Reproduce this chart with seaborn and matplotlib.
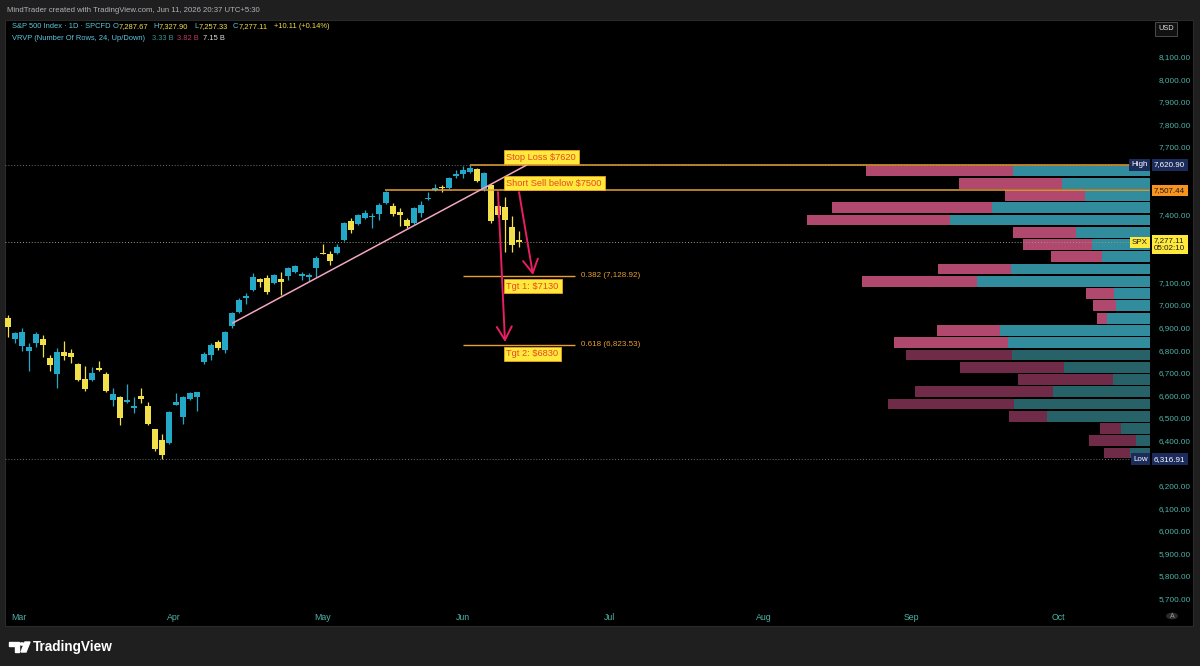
import numpy as np
import pandas as pd
import matplotlib
matplotlib.use("Agg")
import matplotlib.pyplot as plt
import matplotlib.transforms as mtransforms
from matplotlib.patches import Rectangle, Circle, Polygon
import seaborn as sns

# daily SPX candles, bar index 0 (Feb 27) .. 73 (Jun 11)
opens = [6942, 6849, 6818, 6796, 6831, 6849, 6765, 6694, 6792, 6787,
         6738, 6672, 6668, 6721, 6694, 6579, 6592, 6570, 6544, 6597,
         6552, 6450, 6402, 6388, 6557, 6504, 6583, 6592, 6747, 6778,
         6836, 6800, 6907, 6969, 7031, 7066, 7115, 7120, 7097, 7115,
         7128, 7146, 7128, 7124, 7164, 7230, 7226, 7230, 7288, 7372,
         7359, 7385, 7390, 7405, 7451, 7440, 7412, 7376, 7363, 7407,
         7470, 7509, 7523, 7518, 7571, 7580, 7589, 7602, 7514, 7531,
         7438, 7434, 7345, 7287.67]
highs = [6955, 6880, 6898, 6831, 6880, 6867, 6778, 6809, 6840, 6805,
         6742, 6730, 6725, 6752, 6703, 6632, 6595, 6650, 6592, 6632,
         6570, 6452, 6428, 6530, 6610, 6595, 6614, 6616, 6792, 6831,
         6845, 6884, 6970, 7031, 7053, 7142, 7120, 7133, 7138, 7146,
         7168, 7177, 7146, 7142, 7217, 7272, 7240, 7270, 7367, 7385,
         7403, 7421, 7407, 7451, 7507, 7451, 7429, 7385, 7434, 7460,
         7500, 7536, 7531, 7567, 7598, 7615, 7620.90, 7607, 7590, 7536,
         7450, 7478, 7394, 7327.90]
lows = [6858, 6831, 6796, 6707, 6814, 6769, 6707, 6632, 6756, 6743,
        6663, 6619, 6665, 6707, 6615, 6552, 6468, 6566, 6521, 6566,
        6470, 6353, 6316.91, 6385, 6555, 6473, 6580, 6530, 6738, 6756,
        6800, 6787, 6900, 6964, 7004, 7060, 7080, 7049, 7092, 7044,
        7111, 7142, 7111, 7106, 7124, 7224, 7177, 7226, 7284, 7319,
        7354, 7380, 7341, 7376, 7447, 7394, 7350, 7341, 7359, 7390,
        7465, 7505, 7500, 7514, 7562, 7562, 7584, 7545, 7505, 7363,
        7390, 7234, 7234, 7257.33]
closes = [6902, 6876, 6880, 6814, 6871, 6822, 6734, 6792, 6774, 6770,
          6668, 6628, 6699, 6712, 6619, 6606, 6499, 6579, 6552, 6583,
          6473, 6362, 6335, 6526, 6570, 6592, 6610, 6614, 6783, 6822,
          6809, 6880, 6964, 7022, 7040, 7124, 7102, 7057, 7133, 7102,
          7164, 7173, 7137, 7133, 7208, 7226, 7195, 7257, 7363, 7332,
          7399, 7407, 7394, 7445, 7500, 7403, 7399, 7350, 7430, 7443,
          7474, 7518, 7518, 7563, 7580, 7600, 7607, 7549, 7585, 7372,
          7399, 7376, 7267, 7277.11]

month_pos = [1.6, 23.7, 44.9, 65.0, 86.0, 108.0, 129.1, 150.1]
month_labels = ["Mar", "Apr", "May", "Jun", "Jul", "Aug", "Sep", "Oct"]

# price scale, labels under the badges are covered in the original
price_ticks = list(range(5700, 8101, 100))
covered_ticks = [7600, 7500, 7300, 7200, 6300]

# visible-range volume profile, 24 rows low -> high
vp_low, vp_high = 6316.91, 7620.90
vp_up = [20, 14, 29, 103, 135, 97, 37, 86, 137, 141, 149, 43,
         34, 36, 172, 138, 48, 58, 74, 199, 157, 65, 88, 136]
vp_down = [26, 47, 21, 37, 126, 137, 94, 103, 106, 114, 63, 10,
           23, 28, 115, 73, 51, 68, 62, 143, 160, 79, 102, 147]
vp_area = ["out"] * 9 + ["in"] * 15

last_price = 7277.11
stop_loss = 7620.90
short_level = 7507.44
fib_levels = [7128.92, 6823.53]
fib_names = ["0.382 (7,128.92)", "0.618 (6,823.53)"]
trend_x = [32.1, 74.1]
trend_y = [6920, 7620]
arrow_from = [(73.0, 7500), (70.0, 7500)]
arrow_to = [(75.0, 7133), (71.0, 6836)]
notes = ["Stop Loss $7620", "Short Sell below $7500", "Tgt 1: $7130", "Tgt 2: $6830"]
note_y = [7655, 7540, 7084, 6783]

UP = "#24A8C8"
DN = "#F2E04A"
ORANGE = "#E8A030"
PINK = "#E91E63"
TICK = "#4FB3AA"
LEG = "#5CC8E0"
W, H = 1200, 666

sns.set_theme(style="dark")
plt.rcParams["font.family"] = ["Liberation Sans", "DejaVu Sans"]

fig = plt.figure(figsize=(12, 6.66), dpi=100, facecolor="#1f1f1f")


def px(x, y):
    return x / W, 1 - y / H


# black chart panel
fig.patches.append(Rectangle(px(5, 626), 1188 / W, 606 / H, transform=fig.transFigure,
                             facecolor="black", edgecolor="#2a2a2a", lw=0.8, zorder=0))

ax = fig.add_axes([5 / W, 60 / H, 1145 / W, 586 / H])
ax2 = ax.twiny()
ax.set_zorder(2)
ax.patch.set_visible(False)
ax2.set_zorder(1)
ax2.patch.set_visible(False)

# volume profile (behind the price pane)
rowh = (vp_high - vp_low) / len(vp_up)
vp = pd.DataFrame({"price": vp_low + rowh * (np.arange(len(vp_up)) + 0.5),
                   "up": vp_up, "down": vp_down, "area": vp_area})
vp["total"] = vp["up"] + vp["down"]
sns.barplot(data=vp, x="total", y="price", hue="area", orient="y", native_scale=True,
            palette={"in": "#C2366A", "out": "#7A2046"}, dodge=False, width=0.88,
            errorbar=None, legend=False, linewidth=0, edgecolor="none", ax=ax2)
sns.barplot(data=vp, x="up", y="price", hue="area", orient="y", native_scale=True,
            palette={"in": "#1F98B0", "out": "#1B6B73"}, dodge=False, width=0.88,
            errorbar=None, legend=False, linewidth=0, edgecolor="none", ax=ax2)
ax2.set_xlim(vp["total"].max() / 0.30, 0)
ax2.xaxis.set_visible(False)
ax2.set_xlabel("")
ax2.set_ylabel("")

# candles
df = pd.DataFrame({"o": opens, "h": highs, "l": lows, "c": closes})
df["i"] = np.arange(len(df))
col = np.where(df["c"] >= df["o"], UP, DN)
ax.vlines(df["i"], df["l"], df["h"], colors=col, lw=0.9, zorder=3)
ax.bar(df["i"], (df["c"] - df["o"]).abs().clip(lower=4), bottom=np.minimum(df["o"], df["c"]),
       width=0.72, color=col, lw=0, zorder=4)

xmin, xmax = -0.43, 163.14
dots = (0, (1, 2))
ax.axhline(stop_loss, color="#707070", lw=0.7, ls=dots, zorder=1)
ax.axhline(vp_low, color="#707070", lw=0.7, ls=dots, zorder=1)
ax.axhline(last_price, color="#9a9a80", lw=0.7, ls=dots, zorder=1)
ax.hlines(stop_loss, 66, xmax, color=ORANGE, lw=1.1, zorder=5)
ax.hlines(short_level, 53.9, xmax, color=ORANGE, lw=1.1, zorder=5)
for lvl, name in zip(fib_levels, fib_names):
    ax.hlines(lvl, 65, 81, color=ORANGE, lw=1.0, zorder=5)
    ax.text(81.9, lvl, name, color=ORANGE, fontsize=5.8, va="center", ha="left", zorder=6)

sns.lineplot(x=trend_x, y=trend_y, color="#F4A6C0", lw=1.1, ax=ax, zorder=5)

for (x0, y0), (x1, y1) in zip(arrow_from, arrow_to):
    ax.annotate("", xy=(x1, y1), xytext=(x0, y0), zorder=7,
                arrowprops=dict(arrowstyle="->,head_length=0.8,head_width=0.45",
                                color=PINK, lw=1.4, shrinkA=0, shrinkB=0))

for txt, yv in zip(notes, note_y):
    ax.text(71.2, yv, txt, color="#E8472B", fontsize=6.7, va="center", ha="left", zorder=8,
            bbox=dict(boxstyle="square,pad=0.3", facecolor="#FFE93B", edgecolor="#F0A020", lw=0.6))

ax.set_xlim(xmin, xmax)
ax.set_ylim(8351.2 - 4.4307 * 606, 8351.2 - 4.4307 * 20)
ax.set_xticks(month_pos)
ax.set_xticklabels(month_labels)
ax.set_yticks(price_ticks)
ax.set_yticklabels(["" if v in covered_ticks else f"{v:,.2f}" for v in price_ticks])
ax.yaxis.tick_right()
ax.tick_params(axis="y", length=0, pad=6, labelsize=5.9, labelcolor=TICK)
ax.tick_params(axis="x", length=0, pad=5, labelsize=6.3, labelcolor=TICK)
ax.grid(False)
ax2.grid(False)
ax.set_xlabel("")
ax.set_ylabel("")
for a in (ax, ax2):
    for s in a.spines.values():
        s.set_visible(False)

# price scale badges
bl = mtransforms.blended_transform_factory(ax.transAxes, ax.transData)
fx = lambda p: (p - 5) / 1145


def badge(x, y, s, fc, tc, size=5.8, ha="left"):
    ax.text(fx(x), y, s, transform=bl, color=tc, fontsize=size, ha=ha, va="center",
            zorder=9, clip_on=False, linespacing=1.1,
            bbox=dict(boxstyle="square,pad=0.3", facecolor=fc, edgecolor="none"))


badge(1148, stop_loss, "High", "#1B2B5C", "white", ha="right")
badge(1154, stop_loss, "7,620.90", "#1B2B5C", "white")
badge(1154, short_level, "7,507.44", "#F7931E", "#1a1a1a")
badge(1148, last_price, "SPX", "#FFE93B", "#1a1a1a", ha="right")
badge(1154, last_price - 10, "7,277.11\n05:02:10", "#FFE93B", "#1a1a1a")
badge(1148, vp_low, "Low", "#1B2B5C", "white", ha="right")
badge(1154, vp_low, "6,316.91", "#1B2B5C", "white")

# header and legend
fig.text(*px(7, 10), "MindTrader created with TradingView.com, Jun 11, 2026 20:37 UTC+5:30",
         color="#B0B3BA", fontsize=5.6, va="center")
legend1 = [(12, "S&P 500 Index · 1D · SPCFD", LEG), (113, "O", LEG),
           (119, "7,287.67", DN), (153, "H", LEG), (159, "7,327.90", DN),
           (194, "L", LEG), (199, "7,257.33", DN), (233, "C", LEG),
           (239, "7,277.11", DN), (274, "+10.11 (+0.14%)", DN)]
for x, s, c in legend1:
    fig.text(*px(x, 27), s, color=c, fontsize=5.4, va="center")
legend2 = [(12, "VRVP (Number Of Rows, 24, Up/Down)", LEG), (152, "3.33 B", "#2A9A8E"),
           (177, "3.82 B", "#C2366A"), (203, "7.15 B", "#E0E0E0")]
for x, s, c in legend2:
    fig.text(*px(x, 38), s, color=c, fontsize=5.4, va="center")

# USD box
fig.text(*px(1166, 29), "USD", color="#E0E0E0", fontsize=5.3, ha="center", va="center",
         bbox=dict(boxstyle="square,pad=0.5", facecolor="#111111", edgecolor="#555555", lw=0.6))

# auto-scale button
fig.patches.append(Circle(px(1172, 616), 6 / W, transform=fig.transFigure,
                          facecolor="#2b2b2b", edgecolor="none", zorder=3))
fig.text(*px(1172, 616), "A", color="#9a9a9a", fontsize=5, ha="center", va="center")

# TradingView logo
fig.patches.append(Polygon([px(9, 642), px(19, 642), px(19, 652), px(15, 652), px(15, 646),
                            px(9, 646)], closed=True, transform=fig.transFigure,
                           facecolor="white", zorder=3))
fig.patches.append(Circle(px(22, 644), 2 / W, transform=fig.transFigure,
                          facecolor="white", zorder=3))
fig.patches.append(Polygon([px(25, 642), px(30, 642), px(26, 652), px(21, 652)], closed=True,
                           transform=fig.transFigure, facecolor="white", zorder=3))
fig.text(*px(33, 647), "TradingView", color="white", fontsize=9.8, fontweight="semibold",
         va="center")

fig.savefig("out.png", dpi=100, facecolor=fig.get_facecolor())
